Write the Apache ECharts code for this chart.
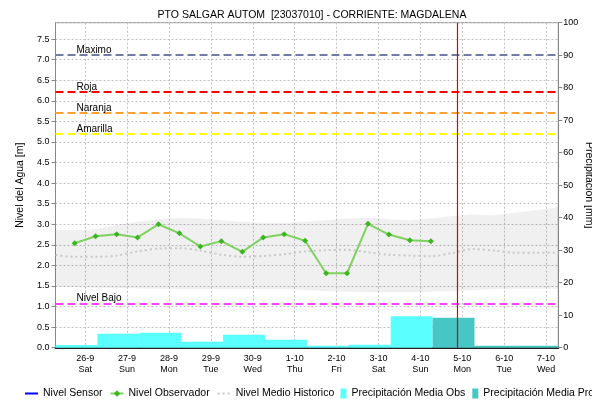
<!DOCTYPE html>
<html>
<head>
<meta charset="utf-8">
<script src="https://cdn.jsdelivr.net/npm/echarts@6/dist/echarts.min.js"></script>
<style>
  html, body { margin: 0; padding: 0; background: #ffffff; }
  #chart { width: 592px; height: 403px; }
</style>
</head>
<body>
<div id="chart"></div>
<script>
// Time is measured in days from 26-9 00:00; the hydrological day runs 07:00 to 07:00.
const dayLabels = ['26-9', '27-9', '28-9', '29-9', '30-9', '1-10', '2-10', '3-10', '4-10', '5-10', '6-10', '7-10'];
const weekdayLabels = ['Sat', 'Sun', 'Mon', 'Tue', 'Wed', 'Thu', 'Fri', 'Sat', 'Sun', 'Mon', 'Tue', 'Wed'];
const dayTicks = [0, 1, 2, 3, 4, 5, 6, 7, 8, 9, 10, 11];
const axisStart = -17 / 24;   // 25-9 07:00
const axisEnd = 11 + 7 / 24;  // 7-10 07:00

// Observer readings (06:00 and 18:00), water level in m
const obsTimes = [-0.25, 0.25, 0.75, 1.25, 1.75, 2.25, 2.75, 3.25, 3.75, 4.25, 4.75, 5.25, 5.75, 6.25, 6.75, 7.25, 7.75, 8.25];
const obsLevels = [2.54, 2.71, 2.76, 2.68, 3.00, 2.78, 2.46, 2.59, 2.33, 2.68, 2.76, 2.60, 1.81, 1.81, 3.01, 2.75, 2.61, 2.59];

// Historical statistics of the level, m
const histTimes = [-0.708, -0.25, 0.25, 0.75, 1.25, 1.75, 2.25, 2.75, 3.25, 3.75, 4.25, 4.75, 5.25, 5.75, 6.25, 6.75, 7.25, 7.75, 8.25, 8.75, 9.25, 9.75, 10.25, 10.75, 11.292];
const histMean = [2.25, 2.21, 2.21, 2.24, 2.34, 2.41, 2.42, 2.36, 2.26, 2.21, 2.23, 2.27, 2.34, 2.37, 2.38, 2.32, 2.26, 2.24, 2.22, 2.30, 2.40, 2.36, 2.31, 2.31, 2.31];
const histMax = [2.86, 2.86, 2.88, 2.98, 3.06, 3.12, 3.16, 3.14, 3.10, 3.06, 3.04, 3.04, 3.06, 3.10, 3.14, 3.16, 3.12, 3.10, 3.14, 3.20, 3.24, 3.22, 3.28, 3.34, 3.42];
const histMin = [1.48, 1.47, 1.46, 1.45, 1.44, 1.43, 1.42, 1.42, 1.42, 1.42, 1.42, 1.42, 1.40, 1.38, 1.36, 1.35, 1.35, 1.35, 1.36, 1.38, 1.40, 1.42, 1.43, 1.43, 1.43];

// Daily mean precipitation, mm (observed for 26-9..4-10, forecast for 5-10..7-10)
const precipObsDays = [0, 1, 2, 3, 4, 5, 6, 7, 8];
const precipObs = [0.8, 4.3, 4.6, 1.85, 4.0, 2.45, 0.6, 0.9, 9.65];
const precipProDays = [9, 10, 11];
const precipPro = [9.2, 0.6, 0.6];

// Alert thresholds, m
const thresholdNames = ['Maximo', 'Roja', 'Naranja', 'Amarilla', 'Nivel Bajo'];
const thresholdLevels = [7.11, 6.22, 5.71, 5.20, 1.07];
const thresholdColors = ['#6f7ea0', '#ff0000', '#ffa033', '#ffff00', '#ff44ff'];

// Current time marker (4-10 21:00)
const nowTime = 8.875;

const FONT = 'Liberation Sans';

function pairs(xs, ys) { return xs.map((x, i) => [x, ys[i]]); }
function dayBars(days, values) {
  return days.map((d, i) => [d - 17 / 24, d + 7 / 24, values[i]]);
}

function renderBar(params, api) {
  const top = api.coord([api.value(0), api.value(2)]);
  const base = api.coord([api.value(1), 0]);
  return {
    type: 'rect',
    shape: { x: top[0], y: top[1], width: base[0] - top[0], height: base[1] - top[1] },
    style: api.style()
  };
}

// Historical min-max envelope drawn as one polygon (upper edge forward, lower edge back)
function renderBand(params, api) {
  if (params.dataIndex !== 0) return null;
  const pts = [];
  for (let i = 0; i < histTimes.length; i++) pts.push(api.coord([histTimes[i], histMax[i]]));
  for (let i = histTimes.length - 1; i >= 0; i--) pts.push(api.coord([histTimes[i], histMin[i]]));
  return { type: 'polygon', shape: { points: pts }, style: { fill: 'rgba(0,0,0,0.06)' } };
}

const chart = echarts.init(document.getElementById('chart'), null, { renderer: 'canvas' });

const thresholdLines = thresholdNames.map((n, i) => ({
  name: n,
  yAxis: thresholdLevels[i],
  lineStyle: { color: thresholdColors[i], type: [8, 4], width: 2 },
  label: {
    show: true, position: 'insideStartTop', formatter: n,
    color: '#000', fontFamily: FONT, fontSize: 10, distance: [21, 0]
  }
}));
thresholdLines.push({
  xAxis: nowTime,
  lineStyle: { color: '#e00000', type: 'solid', width: 1.2 },
  label: { show: false }
});

const legendText = { fontFamily: FONT, fontSize: 10.5, color: '#000' };

const option = {
  backgroundColor: '#ffffff',
  animation: false,
  textStyle: { fontFamily: FONT },
  title: {
    text: 'PTO SALGAR AUTOM  [23037010] - CORRIENTE: MAGDALENA',
    left: 307, top: 5, textAlign: 'center',
    textStyle: { fontFamily: FONT, fontSize: 10.5, fontWeight: 'normal', color: '#000' }
  },
  grid: {
    left: 55.5, right: 33.7, top: 22.7, bottom: 55.3,
    outerBoundsMode: 'none', containLabel: false,
    show: true, borderColor: '#888888', borderWidth: 1, backgroundColor: 'transparent'
  },
  legend: [
    {
      data: [
        { name: 'Nivel Sensor', itemStyle: { opacity: 0 } },
        { name: 'Nivel Observador' },
        { name: 'Nivel Medio Historico', itemStyle: { opacity: 0 } }
      ],
      left: 24, top: 388, width: 320, padding: 0, itemWidth: 13, itemHeight: 8, itemGap: 7,
      selectedMode: false, textStyle: legendText
    },
    {
      data: [{ name: 'Precipitación Media Obs', icon: 'rect' }, { name: 'Precipitación Media Pro', icon: 'rect' }],
      left: 340.5, top: 388, width: 400, padding: 0, itemWidth: 6, itemHeight: 10, itemGap: 7,
      selectedMode: false, textStyle: legendText
    }
  ],
  xAxis: {
    type: 'value', min: axisStart, max: axisEnd,
    axisLine: { show: true, onZero: false, lineStyle: { color: '#222', type: [1, 1], width: 2 } },
    axisTick: { show: false, customValues: dayTicks },
    axisLabel: {
      customValues: dayTicks, margin: 5,
      fontFamily: FONT, fontSize: 9, color: '#000', lineHeight: 11,
      formatter: v => dayLabels[v] + '\n' + weekdayLabels[v]
    },
    splitLine: { show: true, lineStyle: { color: '#c0c0c0', type: [2, 2], width: 1 } }
  },
  yAxis: [
    {
      type: 'value', min: 0, max: 7.9, interval: 0.5,
      name: 'Nivel del Agua [m]', nameLocation: 'middle', nameGap: 23,
      nameTextStyle: { fontFamily: FONT, fontSize: 10.5, color: '#000' },
      axisLine: { show: true, onZero: false, lineStyle: { color: '#888' } },
      axisTick: { show: true, length: 4, lineStyle: { color: '#888' } },
      axisLabel: {
        showMaxLabel: false, margin: 6,
        fontFamily: FONT, fontSize: 9, color: '#000',
        formatter: v => v.toFixed(1)
      },
      splitLine: { show: true, lineStyle: { color: '#c0c0c0', type: [2, 2], width: 1 } }
    },
    {
      type: 'value', min: 0, max: 100, interval: 10, position: 'right',
      name: 'Precipitación [mm]', nameLocation: 'middle', nameGap: 25, nameRotate: -90,
      nameMoveOverlap: false,
      nameTextStyle: {
        fontFamily: FONT, fontSize: 10.5, color: '#000',
        align: 'center', verticalAlign: 'bottom'
      },
      axisLine: { show: true, onZero: false, lineStyle: { color: '#888' } },
      axisTick: { show: true, length: 4, lineStyle: { color: '#888' } },
      axisLabel: { margin: 5, fontFamily: FONT, fontSize: 9, color: '#000' },
      splitLine: { show: false }
    }
  ],
  series: [
    {
      name: 'band', type: 'custom', silent: true, z: 1,
      encode: { x: 0, y: 1 },
      data: pairs(histTimes, histMax),
      renderItem: renderBand
    },
    {
      name: 'Precipitación Media Obs', type: 'custom', yAxisIndex: 1,
      itemStyle: { color: '#5affff' },
      encode: { x: [0, 1], y: 2 },
      data: dayBars(precipObsDays, precipObs),
      renderItem: renderBar, z: 2
    },
    {
      name: 'Precipitación Media Pro', type: 'custom', yAxisIndex: 1,
      itemStyle: { color: '#47c6c6' },
      encode: { x: [0, 1], y: 2 },
      data: dayBars(precipProDays, precipPro),
      renderItem: renderBar, z: 2
    },
    {
      name: 'Nivel Medio Historico', type: 'line', smooth: 0.3,
      data: pairs(histTimes, histMean), symbol: 'none',
      itemStyle: { color: '#c8c8c8' },
      lineStyle: { color: '#c8c8c8', width: 2, type: [2, 3] },
      z: 3,
      markLine: { silent: true, symbol: 'none', data: thresholdLines, z: 6, animation: false }
    },
    {
      name: 'Nivel Sensor', type: 'line', data: [], symbol: 'none',
      itemStyle: { color: '#0000ff' }, lineStyle: { color: '#0000ff', width: 1 }
    },
    {
      name: 'Nivel Observador', type: 'line',
      data: pairs(obsTimes, obsLevels),
      symbol: 'diamond', symbolSize: 6,
      itemStyle: { color: '#3cb521' },
      lineStyle: { color: '#7fd160', width: 2 },
      z: 5
    }
  ]
};

chart.setOption(option);
</script>
</body>
</html>
